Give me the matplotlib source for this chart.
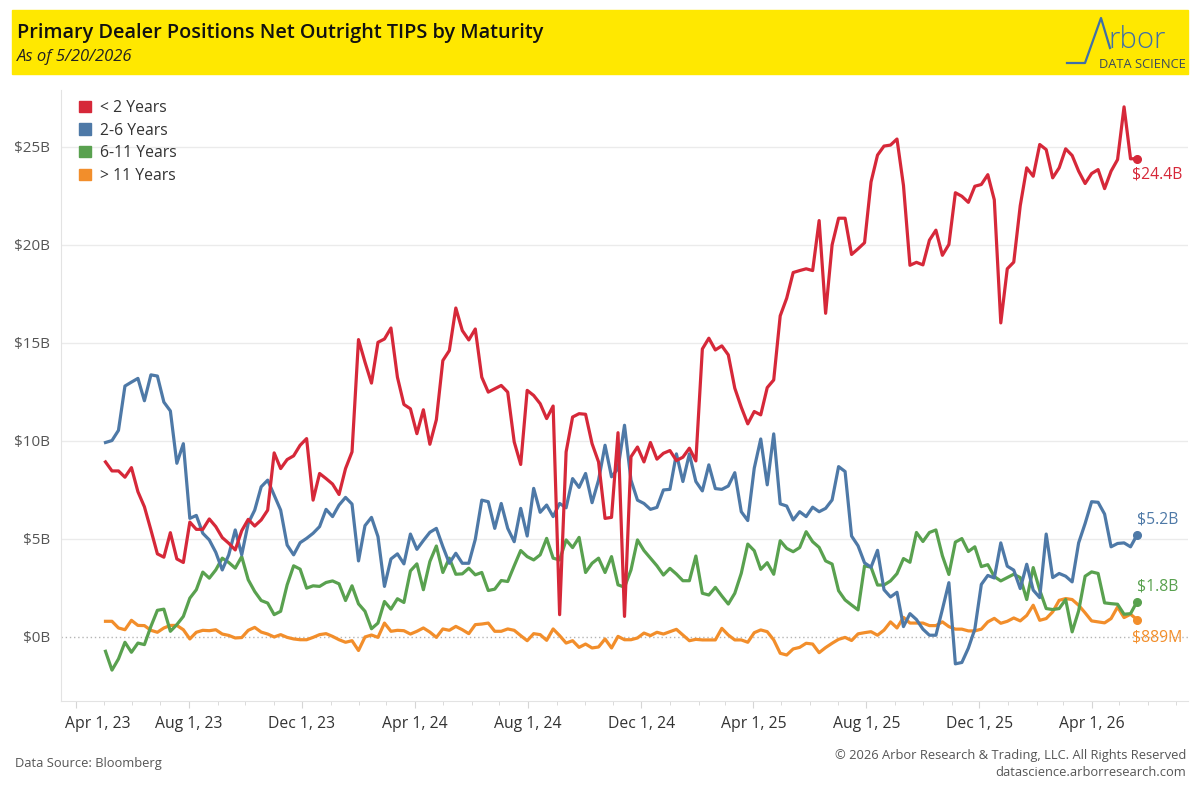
import numpy as np
import pandas as pd
import matplotlib
matplotlib.use("Agg")
import matplotlib.pyplot as plt
import matplotlib.dates as mdates
from matplotlib.patches import Rectangle, Patch
from matplotlib.lines import Line2D
from matplotlib.ticker import FuncFormatter
import matplotlib.transforms as mtransforms

plt.rcParams['font.family'] = ['Open Sans', 'DejaVu Sans']

# weekly data, last observation 5/20/2026 (values in $B)
end_date = "2026-05-20"
series_names = ["< 2 Years", "2-6 Years", "6-11 Years", "> 11 Years"]
end_labels = ["$24.4B", "$5.2B", "$1.8B", "$889M"]

lt2 = [8.93, 8.47, 8.47, 8.15, 8.64, 7.41, 6.64, 5.46, 4.24, 4.07, 5.32, 3.98, 3.80, 5.86, 5.49,
       5.49, 6.02, 5.63, 5.07, 4.78, 4.44, 5.42, 6.0, 5.66, 5.97, 6.47, 9.39, 8.59,
       9.05, 9.24, 9.78, 10.12, 6.98, 8.34, 8.08, 7.80, 7.27, 8.59, 9.44, 15.17, 14.02, 12.95,
       15.03, 15.2, 15.76, 13.25, 11.86, 11.64, 10.37, 11.59, 9.83, 11.08, 14.10, 14.61, 16.78,
       15.63, 15.15,
       15.71, 13.25, 12.49, 12.66, 12.83, 12.49, 9.95, 8.80, 12.58, 12.32, 11.90, 11.14, 11.78,
       1.14, 9.44, 11.22, 11.39, 11.36, 9.86, 8.93, 6.05, 6.10, 10.42, 1.05, 9.19, 9.69, 8.93,
       9.92, 9.07,
       9.37, 9.51, 9.0, 9.17, 9.63, 8.98, 14.69, 15.24, 14.64, 14.85, 14.39, 12.69, 11.72, 10.87,
       11.5, 11.33, 12.72, 13.11, 16.38, 17.28, 18.59, 18.69, 18.78, 18.69, 21.24, 16.51, 20.0,
       21.36, 21.36,
       19.51, 19.80, 20.11, 23.21, 24.58, 25.04, 25.09, 25.40, 23.03, 18.96, 19.11, 18.98, 20.24,
       20.75, 19.47, 20.02, 22.66, 22.48, 22.17, 22.99, 23.08, 23.58, 22.30,
       16.02, 18.78, 19.12, 22.0, 23.93, 23.5, 25.12, 24.86, 23.42, 23.93, 24.90, 24.56, 23.76,
       23.13, 23.64, 23.84, 22.87, 23.76, 24.35, 27.04, 24.39, 24.4]

y2_6 = [9.92, 10.02, 10.54, 12.8, 13.0, 13.19, 12.05, 13.37, 13.31, 11.98, 11.53, 8.86, 9.86, 6.05,
        6.2, 5.29, 4.95, 4.32, 3.42, 4.19, 5.46, 4.19, 5.8, 6.47, 7.66, 8.0, 7.24, 6.47,
        4.69, 4.19, 4.81, 5.03, 5.29, 5.63, 6.51, 6.14, 6.73, 7.12, 6.78, 3.88, 5.68, 6.10, 5.12,
        2.58, 3.98, 4.24, 3.73, 5.25, 4.47, 4.92, 5.34, 5.54, 4.61, 3.76, 4.27, 3.76, 3.76,
        4.98, 6.98, 6.90, 5.54, 6.81, 5.54, 4.86, 6.56, 5.15, 7.58, 6.36, 6.73, 6.14, 6.81, 6.59,
        8.08, 7.63, 8.34, 6.85, 8.0, 9.78, 8.17, 8.59, 10.80, 8.0, 6.98, 6.81, 6.51, 6.61,
        7.5, 7.53, 9.34, 7.93, 9.34, 7.93, 7.45, 8.78, 7.57, 7.53, 7.70, 8.38, 6.39, 5.94, 8.61,
        10.10, 7.76, 10.36, 6.79, 6.68, 5.97, 6.39, 6.14, 6.62, 6.39, 6.56, 6.99, 8.69, 8.44,
        5.15, 4.65, 3.78, 3.56, 4.42, 2.41, 2.04, 2.28, 0.53, 1.19, 0.89, 0.40, 0.09, 0.09, 1.41,
        2.77, -1.37, -1.30, -0.57, 0.40, 2.68, 3.14, 3.01,
        4.80, 3.61, 3.41, 2.47, 3.71, 2.39, 2.01, 5.25, 3.03, 3.24, 3.10, 2.81, 4.80, 5.79, 6.90,
        6.87, 6.27, 4.60, 4.77, 4.80, 4.60, 5.2]

y6_11 = [-0.73, -1.69, -1.12, -0.27, -0.78, -0.31, -0.39, 0.54, 1.36, 1.42, 0.29, 0.63, 1.05, 1.98,
         2.41, 3.31, 3.0, 3.42, 4.02, 3.80, 3.51, 4.10, 2.92, 2.32, 1.86, 1.73, 1.14, 1.31,
         2.66, 3.63, 3.46, 2.49, 2.61, 2.58, 2.78, 2.86, 2.71, 1.86, 2.61, 1.69, 1.31, 0.42, 0.71,
         1.81, 1.42, 1.95, 1.76, 3.37, 3.73, 2.41, 3.85, 4.64, 3.29, 4.02, 3.20, 3.22, 3.51,
         3.17, 3.29, 2.37, 2.44, 2.88, 2.83, 3.63, 4.41, 4.10, 3.93, 4.19, 5.03, 4.02, 3.93, 4.95,
         4.56, 5.08, 3.29, 3.76, 4.02, 3.29, 4.10, 2.66, 2.54, 3.42, 4.95, 4.41, 4.02, 3.63,
         3.16, 3.50, 3.21, 2.87, 2.87, 4.13, 2.23, 2.14, 2.53, 2.09, 1.68, 2.23, 3.25, 4.74, 4.40,
         3.45, 3.79, 3.20, 4.91, 4.52, 4.35, 4.56, 5.37, 4.86, 4.57, 3.88, 3.72, 2.36, 1.89,
         1.63, 1.38, 3.63, 3.56, 2.65, 2.65, 2.86, 3.23, 4.0, 3.81, 5.33, 4.87, 5.33, 5.46, 4.14,
         3.19, 4.84, 5.02, 4.36, 4.60, 3.59, 3.69, 3.08,
         2.86, 3.03, 3.20, 3.03, 1.91, 3.54, 2.39, 1.45, 1.40, 1.45, 1.91, 0.26, 1.33, 3.10, 3.32,
         3.24, 1.74, 1.70, 1.67, 1.16, 1.19, 1.8]

gt11 = [0.80, 0.80, 0.46, 0.37, 0.85, 0.59, 0.58, 0.34, 0.24, 0.46, 0.59, 0.59, 0.37, -0.10, 0.24,
        0.34, 0.32, 0.37, 0.15, 0.08, -0.05, -0.03, 0.34, 0.49, 0.25, 0.15, 0.0, 0.12,
        -0.02, -0.10, -0.14, -0.14, -0.02, 0.12, 0.17, 0.03, -0.14, -0.27, -0.19, -0.69, 0.0, 0.10,
        -0.02, 0.71, 0.29, 0.34, 0.32, 0.15, 0.29, 0.46, 0.25, -0.02, 0.41, 0.34, 0.54, 0.37, 0.17,
        0.63, 0.66, 0.71, 0.29, 0.29, 0.41, 0.34, 0.07, -0.19, 0.17, 0.12, -0.17, 0.41, 0.07, -0.31,
        -0.19, -0.53, -0.36, -0.56, -0.51, -0.10, -0.56, 0.03, -0.14, -0.14, -0.05, 0.20, 0.07, 0.24,
        0.15, 0.27, 0.39, 0.10, -0.19, -0.12, -0.15, -0.15, -0.15, 0.44, 0.10, -0.15, -0.15, -0.27,
        0.22, 0.36, 0.27, -0.15, -0.83, -0.92, -0.61, -0.53, -0.32, -0.36, -0.80, -0.54, -0.32,
        -0.12, -0.02,
        -0.18, 0.16, 0.22, 0.27, 0.09, 0.35, 0.77, 0.46, 1.0, 0.71, 0.71, 0.71, 0.58, 0.58, 0.77,
        0.53, 0.40, 0.40, 0.31, 0.31, 0.40, 0.77, 0.95,
        0.70, 0.80, 0.97, 0.82, 1.10, 1.62, 0.85, 0.94, 1.28, 1.87, 1.96, 1.91, 1.62, 1.23, 0.82,
        0.77, 0.72, 0.94, 1.53, 0.99, 1.16, 0.889]

colors = ["#D62839", "#4E79A7", "#59A14F", "#F28E2B"]
series = [lt2, y2_6, y6_11, gt11]
dates = pd.date_range(end=end_date, periods=len(lt2), freq="W-WED")

W, H = 1200, 800
fig = plt.figure(figsize=(12, 8), dpi=100)


def fx(px):
    return px / W


def fy(py):
    return 1 - py / H


# yellow header band
fig.patches.append(Rectangle((fx(12), fy(74)), fx(1188) - fx(12), fy(10) - fy(74),
                             transform=fig.transFigure, color="#FFE800", zorder=0))
fig.text(fx(17), fy(33), "Primary Dealer Positions Net Outright TIPS by Maturity",
         fontsize=14.3, fontweight="semibold", va="center", color="#111111")
fig.text(fx(17), fy(57), "As of 5/20/2026", fontsize=12, style="italic", va="center", color="#222222")

# logo
fig.add_artist(Line2D([fx(1067), fx(1085), fx(1101), fx(1110)], [fy(63), fy(63), fy(18), fy(48)],
                      transform=fig.transFigure, color="#3F6FA8", lw=1.6))
fig.text(fx(1108), fy(48), "rbor", fontsize=21, color="#3F6FA8", va="baseline", ha="left",
         fontweight="light")
fig.text(fx(1186), fy(64), "DATA SCIENCE", fontsize=9.3, color="#3A4A5C", ha="right", va="center")

ax = fig.add_axes([fx(61), fy(700.7), fx(1188) - fx(61), fy(90) - fy(700.7)])
ax.set_xlim(pd.Timestamp("2023-03-16"), pd.Timestamp("2026-07-14"))
ax.set_ylim(-3.25, 27.9)

yticks = [0, 5, 10, 15, 20, 25]
for v in yticks:
    if v == 0:
        ax.axhline(v, color="#B5B5B5", lw=1, ls=(0, (1, 2)), zorder=1)
    else:
        ax.axhline(v, color="#EBEBEB", lw=1, zorder=1)
ax.set_yticks(yticks)
ax.yaxis.set_major_formatter(FuncFormatter(lambda v, p: f"${v:.0f}B"))
ax.tick_params(axis="y", length=0, labelsize=11, labelcolor="#555555", pad=8)

ax.xaxis.set_major_locator(mdates.MonthLocator(bymonth=[4, 8, 12]))
ax.xaxis.set_minor_locator(mdates.MonthLocator())


def date_fmt(v, p):
    d = mdates.num2date(v)
    return f"{d:%b} {d.day}, {d:%y}"


ax.xaxis.set_major_formatter(FuncFormatter(date_fmt))
ax.tick_params(axis="x", which="major", length=5, color="#D5D5D5", labelsize=11.3,
               labelcolor="#333333", pad=6)
ax.tick_params(axis="x", which="minor", length=3, color="#D5D5D5")

for s in ["top", "right"]:
    ax.spines[s].set_visible(False)
for s in ["left", "bottom"]:
    ax.spines[s].set_color("#E3E3E3")

for vals, c in reversed(list(zip(series, colors))):
    ax.plot(dates, vals, color=c, lw=2.3, zorder=3)
    ax.plot(dates[-1], vals[-1], "o", color=c, ms=5.5, zorder=4)

offsets = [(-5, -16), (0, 16), (0, 15), (-5, -18)]
for vals, c, lbl, off in zip(series, colors, end_labels, offsets):
    ax.annotate(lbl, (dates[-1], vals[-1]), xytext=off, textcoords="offset pixels",
                color=c, fontsize=11.3, ha="left", va="center")

handles = [Patch(color=c) for c in colors]
fig.legend(handles, series_names, loc="upper left", bbox_to_anchor=(fx(79), fy(100)),
           frameon=False, fontsize=11.3, handlelength=0.75, handleheight=0.75,
           handletextpad=0.6, labelspacing=0.42, borderaxespad=0, borderpad=0,
           labelcolor="#333333")

fig.canvas.draw()
# first date label is pushed right so it stays inside the chart
first = ax.get_xticklabels()[0]
first.set_horizontalalignment("left")
first.set_transform(first.get_transform() + mtransforms.ScaledTranslation(-11 / 100, 0, fig.dpi_scale_trans))

fig.text(fx(15), fy(763), "Data Source: Bloomberg", fontsize=9.3, color="#555555", va="center")
fig.text(fx(1186), fy(755), "\u00a9 2026 Arbor Research & Trading, LLC. All Rights Reserved",
         fontsize=9.3, color="#555555", va="center", ha="right")
fig.text(fx(1186), fy(772), "datascience.arborresearch.com", fontsize=9.3, color="#555555",
         va="center", ha="right")

fig.savefig("out.png", dpi=100)
